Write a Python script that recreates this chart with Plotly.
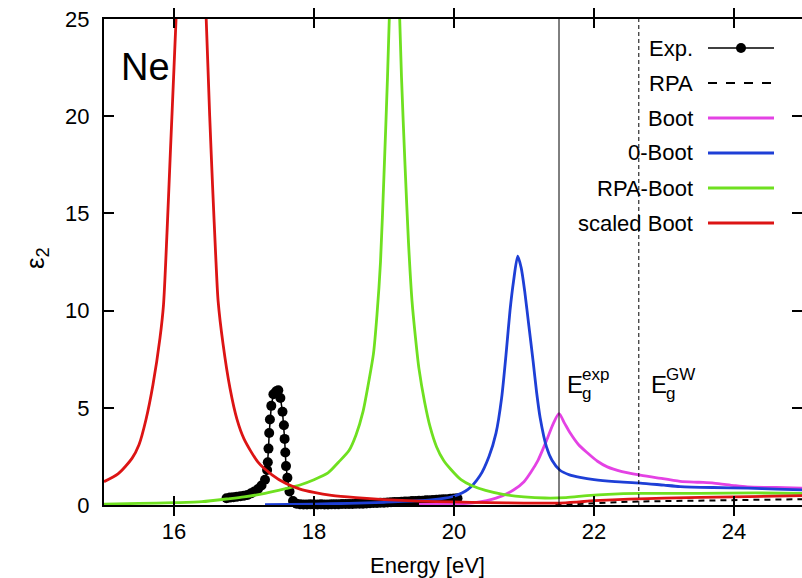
import plotly.graph_objects as go

# ---------------- data ----------------
exp_E = [16.75, 16.80, 16.85, 16.90, 16.95, 17.00, 17.05, 17.10, 17.15, 17.20, 17.25, 17.30, 17.33,
         17.34, 17.35, 17.36, 17.37, 17.39, 17.42, 17.46, 17.49, 17.52, 17.55, 17.57, 17.58, 17.59,
         17.60, 17.62, 17.65, 17.70, 17.75, 17.80, 17.85, 17.90, 17.95, 18.00, 18.05, 18.10, 18.15,
         18.20, 18.25, 18.30, 18.35, 18.40, 18.45, 18.50, 18.55, 18.60, 18.65, 18.70, 18.75, 18.80,
         18.85, 18.90, 18.95, 19.00, 19.05, 19.10, 19.15, 19.20, 19.25, 19.30, 19.35, 19.40, 19.45,
         19.50, 19.55, 19.60, 19.65, 19.70, 19.75, 19.80, 19.85, 19.90, 19.95, 20.00, 20.05]
exp_eps = [0.35, 0.38, 0.40, 0.43, 0.45, 0.48, 0.52, 0.60, 0.70, 0.82, 1.00, 1.30, 1.80,
           2.20, 2.90, 3.70, 4.40, 5.10, 5.70, 5.85, 5.90, 5.50, 4.80, 4.10, 3.40, 2.70,
           2.00, 1.40, 0.70, 0.20, 0.06, 0.04, 0.03, 0.03, 0.04, 0.03, 0.03, 0.04, 0.03,
           0.03, 0.04, 0.04, 0.04, 0.05, 0.05, 0.05, 0.05, 0.06, 0.06, 0.07, 0.08, 0.09,
           0.10, 0.10, 0.12, 0.12, 0.13, 0.14, 0.15, 0.16, 0.17, 0.18, 0.18, 0.20, 0.20,
           0.22, 0.22, 0.24, 0.25, 0.26, 0.27, 0.28, 0.30, 0.30, 0.32, 0.33, 0.35]

rpa_E = [21.45, 21.8, 22.0, 22.5, 23.0, 24.0, 25.0]
rpa_eps = [0.0, 0.06, 0.12, 0.17, 0.2, 0.26, 0.3]

boot_E = [19.5, 20.0, 20.3, 20.6, 20.85, 21.0, 21.1, 21.2, 21.32, 21.42, 21.5, 21.58, 21.66,
          21.78, 21.9, 22.05, 22.19, 22.4, 22.66, 22.9, 23.23, 23.5, 23.71, 24.0, 24.19, 24.6, 25.0]
boot_eps = [0.03, 0.05, 0.12, 0.35, 0.77, 1.2, 1.7, 2.3, 3.3, 4.2, 4.7, 4.2, 3.7,
            3.1, 2.7, 2.25, 1.96, 1.72, 1.54, 1.4, 1.22, 1.17, 1.13, 1.0, 0.93, 0.9, 0.87]

zboot_E = [17.3, 18.0, 18.5, 19.0, 19.5, 19.8, 20.0, 20.2, 20.37, 20.5, 20.6, 20.68, 20.75,
           20.8, 20.85, 20.91, 20.96, 21.01, 21.07, 21.13, 21.18, 21.23, 21.32, 21.4, 21.51,
           21.65, 21.8, 22.0, 22.3, 22.66, 23.0, 23.23, 23.7, 24.2, 24.6, 25.0]
zboot_eps = [0.02, 0.05, 0.08, 0.14, 0.22, 0.32, 0.45, 0.8, 1.5, 2.5, 3.7, 5.5, 8.0,
             10.0, 11.5, 12.8, 12.2, 11.0, 9.2, 7.4, 5.8, 4.5, 3.0, 2.3, 1.8,
             1.55, 1.42, 1.3, 1.2, 1.13, 1.02, 0.95, 0.9, 0.87, 0.82, 0.77]

rpaboot_E = [15.0, 15.5, 16.0, 16.4, 16.8, 17.0, 17.3, 17.6, 17.8, 18.0, 18.2, 18.35, 18.5, 18.6,
             18.7, 18.78, 18.85, 18.9, 18.95, 19.0, 19.05, 19.1, 19.15, 19.2, 19.25, 19.3, 19.35,
             19.4, 19.45, 19.5, 19.58, 19.66, 19.75, 19.85, 19.95, 20.1, 20.25, 20.45, 20.7, 21.0,
             21.3, 21.6, 21.9, 22.2, 22.66, 23.5, 24.3, 25.0]
rpaboot_eps = [0.05, 0.08, 0.12, 0.17, 0.33, 0.42, 0.6, 0.85, 1.03, 1.3, 1.65, 2.2, 2.8, 3.6,
               4.8, 6.3, 7.8, 9.8, 12.5, 17.0, 22.0, 28.0, 34.0, 28.0, 22.0, 17.5, 13.5,
               10.5, 8.6, 7.0, 5.3, 4.0, 3.0, 2.3, 1.85, 1.3, 1.0, 0.75, 0.55, 0.42,
               0.36, 0.38, 0.48, 0.55, 0.6, 0.6, 0.62, 0.6]

scaled_E = [15.0, 15.2, 15.4, 15.5, 15.6, 15.7, 15.8, 15.85, 15.9, 15.95, 16.0, 16.05, 16.25,
            16.4, 16.46, 16.51, 16.55, 16.6, 16.63, 16.7, 16.8, 16.9, 17.0, 17.2, 17.4, 17.6,
            17.8, 18.0, 18.25, 18.6, 19.0, 19.5, 20.0, 20.5, 21.0, 21.5, 21.75, 22.0, 22.5,
            23.0, 24.0, 25.0]
scaled_eps = [1.2, 1.6, 2.4, 3.1, 4.4, 6.2, 8.6, 10.3, 14.0, 18.3, 22.5, 27.0, 60.0,
              30.0, 25.0, 20.0, 16.5, 12.5, 10.5, 8.3, 6.0, 4.4, 3.4, 2.2, 1.55, 1.1,
              0.82, 0.65, 0.5, 0.38, 0.28, 0.2, 0.16, 0.12, 0.1, 0.1, 0.15, 0.22, 0.3,
              0.35, 0.42, 0.48]

Eg_exp = 21.5
Eg_GW = 22.64

x_ticks = [16, 18, 20, 22, 24]
y_ticks = [0, 5, 10, 15, 20, 25]

legend_labels = ["Exp.", "RPA", "Boot", "0-Boot", "RPA-Boot", "scaled Boot"]

# ---------------- style ----------------
FONT = "Liberation Sans, Arial, sans-serif"
W, H = 802, 578
L, R, T, B = 104, 0, 19, 73
PX_PER_EV = 70.0
x_min = 15.0
x_max = x_min + (W - L - R) / PX_PER_EV

C_BOOT = "#e442e4"
C_ZBOOT = "#1e3fd6"
C_RPABOOT = "#6fe020"
C_SCALED = "#dc1414"


def px_x(px):
    return (px - L) / (W - L - R)


def px_y(py):
    return 1 - (py - T) / (H - T - B)


fig = go.Figure()

fig.add_trace(go.Scatter(x=exp_E, y=exp_eps, mode="lines+markers",
                         line=dict(color="black", width=1.5),
                         marker=dict(size=10, color="black"), cliponaxis=False))
fig.add_trace(go.Scatter(x=rpa_E, y=rpa_eps, mode="lines",
                         line=dict(color="black", width=2, dash="6px,5px")))
for xs, ys, col in [(boot_E, boot_eps, C_BOOT), (zboot_E, zboot_eps, C_ZBOOT),
                    (rpaboot_E, rpaboot_eps, C_RPABOOT), (scaled_E, scaled_eps, C_SCALED)]:
    fig.add_trace(go.Scatter(x=xs, y=ys, mode="lines",
                             line=dict(color=col, width=2.8, shape="spline", smoothing=0.7)))
# dummy trace to activate the right-hand tick axis
fig.add_trace(go.Scatter(x=[None], y=[None], yaxis="y2", showlegend=False,
                         hoverinfo="skip"))

# gap lines
fig.add_vline(x=Eg_exp, line=dict(color="black", width=1))
fig.add_vline(x=Eg_GW, line=dict(color="black", width=1, dash="4px,3px"))

axis_font = dict(family=FONT, size=22, color="black")

fig.update_layout(
    width=W, height=H,
    margin=dict(l=L, r=R, t=T, b=B, pad=0),
    paper_bgcolor="white", plot_bgcolor="white",
    showlegend=False,
    font=dict(family=FONT, size=22, color="black"),
    xaxis=dict(range=[x_min, x_max], tickvals=x_ticks, ticks="inside", ticklen=9,
               tickwidth=1.5, tickcolor="black", showline=True, linewidth=2,
               linecolor="black", mirror="allticks", showgrid=False, zeroline=False,
               tickfont=axis_font, ticklabelstandoff=6),
    yaxis=dict(range=[0, 25], tickvals=y_ticks, ticks="inside", ticklen=10,
               tickwidth=1.5, tickcolor="black", showline=True, linewidth=2,
               linecolor="black", mirror=False, showgrid=False, zeroline=False,
               tickfont=axis_font, ticklabelstandoff=8),
    yaxis2=dict(range=[0, 25], tickvals=y_ticks, ticks="inside", ticklen=10,
                tickwidth=1.5, tickcolor="black", showline=False, showgrid=False,
                zeroline=False, showticklabels=False, overlaying="y", side="right"),
)

# axis titles
fig.add_annotation(text="Energy [eV]", xref="paper", yref="paper",
                   x=px_x(427), y=px_y(565), xanchor="center", yanchor="middle",
                   showarrow=False, font=dict(family=FONT, size=22, color="black"))
fig.add_annotation(text="ε<sub>2</sub>", xref="paper", yref="paper",
                   x=px_x(36), y=px_y(258), xanchor="center", yanchor="middle",
                   textangle=-90, showarrow=False,
                   font=dict(family=FONT, size=26, color="black"))

# "Ne" label
fig.add_annotation(text="Ne", xref="paper", yref="paper", x=px_x(119), y=px_y(67),
                   xanchor="left", yanchor="middle", showarrow=False,
                   font=dict(family=FONT, size=38, color="black"))

# gap labels
for xpos, sup in [(565, "exp"), (649, "GW")]:
    fig.add_annotation(text="E", xref="paper", yref="paper", x=px_x(xpos), y=px_y(384),
                       xanchor="left", yanchor="middle", showarrow=False,
                       font=dict(family=FONT, size=24, color="black"))
    fig.add_annotation(text="g", xref="paper", yref="paper", x=px_x(xpos + 15), y=px_y(393),
                       xanchor="left", yanchor="middle", showarrow=False,
                       font=dict(family=FONT, size=17, color="black"))
    fig.add_annotation(text=sup, xref="paper", yref="paper", x=px_x(xpos + 15), y=px_y(374),
                       xanchor="left", yanchor="middle", showarrow=False,
                       font=dict(family=FONT, size=17, color="black"))

# manual key (text left of sample, as in the reference)
key_rows = [48, 83, 118, 153, 188, 223]
key_styles = [
    dict(color="black", width=1.5),
    dict(color="black", width=2, dash="dash"),
    dict(color=C_BOOT, width=2.8),
    dict(color=C_ZBOOT, width=2.8),
    dict(color=C_RPABOOT, width=2.8),
    dict(color=C_SCALED, width=2.8),
]
for lbl, row, st in zip(legend_labels, key_rows, key_styles):
    fig.add_annotation(text=lbl, xref="paper", yref="paper", x=px_x(695), y=px_y(row),
                       xanchor="right", yanchor="middle", showarrow=False,
                       font=dict(family=FONT, size=22, color="black"))
    fig.add_shape(type="line", xref="paper", yref="paper",
                  x0=px_x(708), x1=px_x(774), y0=px_y(row), y1=px_y(row), line=st)
fig.add_shape(type="circle", xref="paper", yref="paper",
              x0=px_x(736), x1=px_x(746), y0=px_y(key_rows[0] + 5), y1=px_y(key_rows[0] - 5),
              fillcolor="black", line=dict(color="black", width=0))

fig.write_html("out.html")
